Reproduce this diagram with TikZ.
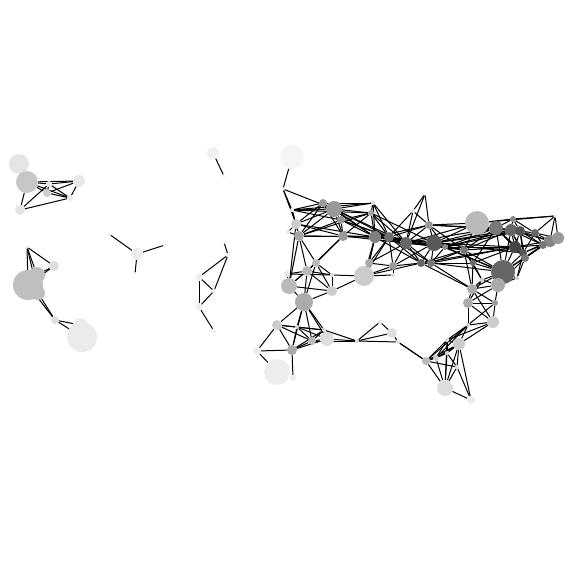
\documentclass[tikz,border=0pt]{standalone}
\usepackage{tikz}
\usetikzlibrary{backgrounds}
\tikzset{
  vtx/.style={
    circle,
    draw=none,
    inner sep=0pt
  },
  link/.style={
    draw=black,
    line width=1pt
  }
}
\begin{document}
\begin{tikzpicture}[x=1pt, y=-1pt]
  \useasboundingbox (0,0) rectangle (576,576);

  \foreach \n/\x/\y/\d/\g in {
    a1/19/164/20/10, a2/27/182/22/22, a3/49/184/6/10, a4/47/193/8/20,
    a5/79/181/12/9, a6/70/198/6/9, a7/20/210/10/10,
    b1/27/247/3/10, b2/54/266/10/13, b3/28/285/30/25, b4/37/275/16/25,
    b5/38/293/14/25, b6/55/320/8/13, b7/82/337/30/8, b8/80/325/14/8,
    c1/137/254/12/7, c2/109/234/4/5, c3/165/245/4/5, c4/135/274/3/5,
    d1/213/153/12/6, d2/224/176/3/5,
    e1/224/242/3/5, e2/228/255/4/5, e3/199/277/7/6, e4/214/291/4/5,
    e5/199/307/7/6, e6/214/331/5/5,
    m1/292/157/24/4, m2/283/189/3/5, m3/292/210/4/10, m4/323/203/8/40,
    m5/334/209/16/40, m6/341/220/8/40, m7/373/203/4/15, m8/371/213/6/35,
    m9/296/224/10/20, m10/299/236/10/35, m11/343/236/10/40, m12/375/237/12/50,
    m13/389/237/10/57, m14/406/243/12/60, m15/288/232/4/10, m16/425/194/3/5,
    m17/413/211/4/10, m18/429/225/8/40, m19/434/243/16/65, m20/421/263/8/60,
    m21/431/263/8/53, m22/445/247/6/45, m23/477/223/24/27, m24/496/228/14/53,
    m25/513/219/6/47, m26/511/230/12/60, m27/520/231/10/67, m28/535/233/8/60,
    m29/555/216/3/10, m30/550/241/12/47, m31/558/238/12/40, m32/543/245/8/53,
    m33/515/247/12/73, m34/523/253/8/67, m35/503/272/24/60, m36/525/258/8/53,
    m37/498/285/14/33, m38/464/250/8/53, m39/473/263/6/60, m40/517/278/4/20,
    m41/472/289/10/33, m42/482/280/4/20, m43/468/303/10/33, m44/495/303/6/40,
    m45/493/322/12/20, m46/468/325/4/20, m47/459/344/12/20, m48/447/340/4/15,
    m49/426/361/8/27, m50/436/358/6/20, m51/447/353/4/15, m52/457/367/4/15,
    m53/445/388/16/13, m54/471/400/8/8, m55/380/322/4/10, m56/392/333/10/13,
    m57/398/342/4/10, m58/357/341/4/15, m59/327/339/14/13, m60/324/330/4/15,
    m61/312/341/8/27, m62/297/327/4/15, m63/277/325/10/20, m64/292/350/10/33,
    m65/257/351/8/7, m66/277/372/26/7, m67/293/378/6/7, m68/304/302/18/33,
    m69/289/286/16/27, m70/332/291/10/20, m71/287/274/6/10, m72/307/271/10/27,
    m73/316/263/8/27, m74/332/275/4/15, m75/364/276/20/20, m76/369/263/8/33,
    m77/393/266/8/40, m78/393/275/4/15}
    \node[vtx, minimum size=\d pt, fill=black!\g] (\n) at (\x,\y) {};

  \begin{pgfonlayer}{background}
  \foreach \a/\b in {
    a2/a3, a2/a4, a2/a5, a2/a6, a2/a7, a3/a5, a3/a6, a4/a5, a4/a6, a7/a6,
    a7/a3, a5/a6, a3/a4,
    b1/b3, b1/b4, b1/b5, b1/b2, b2/b4, b2/b3, b3/b6, b5/b6, b6/b7, b6/b8,
    c1/c2, c1/c3, c1/c4, d1/d2,
    e1/e2, e2/e3, e2/e4, e3/e4, e3/e5, e4/e5, e5/e6,
    m1/m2, m2/m3, m2/m5, m2/m9,
    m3/m4, m3/m5, m3/m7, m3/m8, m3/m9, m3/m10, m3/m6,
    m4/m5, m4/m7, m4/m9, m4/m10, m4/m11, m4/m12,
    m5/m7, m5/m8, m5/m9, m5/m10, m5/m11, m5/m12, m5/m13, m5/m6, m5/m14,
    m6/m8, m6/m10, m6/m12, m6/m13, m6/m14, m6/m11,
    m7/m8, m7/m12, m7/m13, m7/m14,
    m8/m10, m8/m11, m8/m12, m8/m13, m8/m14, m8/m19,
    m9/m10, m9/m11, m9/m12, m9/m15,
    m10/m11, m10/m12, m10/m13, m10/m72, m10/m73,
    m11/m12, m11/m13, m11/m14, m11/m73, m11/m72,
    m12/m13, m12/m14, m12/m19, m12/m20, m12/m76, m12/m18, m12/m22,
    m13/m14, m13/m19, m13/m18, m13/m20, m13/m77, m13/m21, m13/m22,
    m14/m19, m14/m18, m14/m17, m14/m21, m14/m20, m14/m22, m14/m16,
    m14/m24, m14/m38, m14/m23,
    m15/m10,
    m16/m17, m16/m18, m17/m18, m17/m13,
    m18/m19, m18/m23, m18/m24, m18/m22, m18/m38, m18/m26,
    m19/m20, m19/m21, m19/m22, m19/m23, m19/m24, m19/m38, m19/m33, m19/m35,
    m19/m26, m19/m27, m19/m34,
    m20/m21, m20/m75, m20/m77, m20/m38, m20/m41, m20/m33,
    m21/m22, m21/m38, m21/m39, m21/m35, m21/m41, m21/m33,
    m22/m38, m22/m33, m22/m24, m22/m26, m22/m35, m22/m27,
    m23/m24, m23/m25, m23/m29, m23/m38,
    m24/m25, m24/m26, m24/m27, m24/m33, m24/m38, m24/m39, m24/m35,
    m24/m34, m24/m36,
    m25/m26, m25/m27, m25/m29, m25/m28,
    m26/m27, m26/m33, m26/m34, m26/m38, m26/m35, m26/m30, m26/m36, m26/m32,
    m27/m28, m27/m33, m27/m34, m27/m36, m27/m32, m27/m30,
    m28/m29, m28/m30, m28/m31, m28/m32, m28/m34,
    m29/m30, m29/m31, m30/m31, m30/m32, m30/m36, m31/m32,
    m32/m33, m32/m34, m32/m36, m32/m35,
    m33/m34, m33/m35, m33/m36, m33/m38, m33/m39, m33/m30,
    m34/m35, m34/m36, m34/m40, m34/m30,
    m35/m36, m35/m37, m35/m39, m35/m40, m35/m41, m35/m42, m35/m38,
    m36/m40, m36/m37,
    m37/m41, m37/m42, m37/m43, m37/m44, m37/m40,
    m38/m39, m38/m41, m38/m42, m39/m41, m39/m42, m39/m20,
    m41/m43, m41/m44, m41/m45, m41/m42,
    m43/m44, m43/m45, m43/m46, m43/m42,
    m44/m45, m44/m46,
    m45/m46, m45/m47, m45/m48,
    m46/m47, m46/m48, m46/m49, m46/m50,
    m47/m48, m47/m49, m47/m50, m47/m52, m47/m53, m47/m54, m47/m51,
    m48/m49, m48/m50, m48/m51, m48/m53,
    m49/m50, m49/m51, m49/m53, m49/m52, m49/m57,
    m50/m51, m50/m53, m51/m52, m51/m53, m52/m53, m52/m54, m53/m54,
    m68/m69, m68/m70, m68/m72, m68/m73, m68/m63, m68/m61, m68/m64,
    m68/m62, m68/m60, m68/m59,
    m69/m71, m69/m72, m69/m73, m69/m70, m69/m10, m69/m9,
    m71/m72, m71/m74,
    m72/m73, m72/m74, m72/m70,
    m73/m74, m73/m70, m73/m11,
    m74/m75, m74/m70,
    m75/m76, m75/m77, m75/m12, m75/m13, m75/m78, m75/m70,
    m76/m77, m76/m12, m76/m13, m76/m14,
    m77/m78, m77/m14, m77/m19,
    m63/m62, m63/m64, m63/m65, m63/m61, m63/m60,
    m62/m64, m62/m61, m62/m60, m62/m59,
    m60/m61, m60/m59, m60/m64, m60/m58,
    m61/m64, m61/m59, m61/m58,
    m59/m58, m59/m64,
    m64/m65, m64/m67, m65/m66,
    m58/m55, m58/m56, m58/m57, m55/m56, m56/m57, m57/m49}
    \draw[link] (\a) -- (\b);
  \end{pgfonlayer}
\end{tikzpicture}
\end{document}
